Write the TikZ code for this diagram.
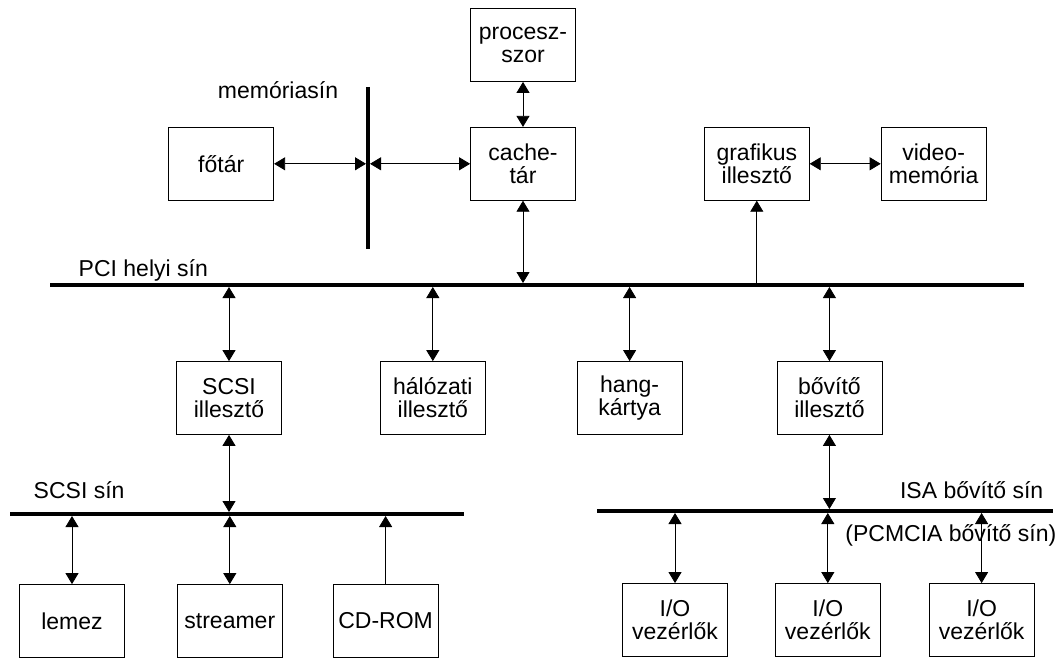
\documentclass[tikz,border=0pt]{standalone}
\usepackage{fontspec}
\setmainfont{Liberation Sans}
\usetikzlibrary{arrows.meta, positioning}
\tikzset{> = { Triangle[length = 11pt, width = 13pt] }}

\begin{document}
\begin{tikzpicture}[x = 1pt, y = -1pt, <->, line width = 0.8pt, font = \fontsize{23}{23}\selectfont, unit/.style = { draw, minimum width = 105pt, minimum height = 73pt, align = center, inner sep = 0pt }, bus/.style = { -, line width = 4pt }, tobus/.style = { shorten > = 2pt }]
				\useasboundingbox (0, 0) rectangle (1064, 660);

				\node [unit] (proc) at (523, 45) {procesz-\\szor};
				\node [unit, below = 45pt of proc] (cache) {cache-\\tár};
				\node [unit, left = 196pt of cache] (fotar) {főtár};
				\node [unit, right = 128pt of cache] (graf) {grafikus\\illesztő};
				\node [unit, right = 71pt of graf] (video) {video-\\memória};

				\node [unit] (scsi) at (229, 398) {SCSI\\illesztő};
				\node [unit, right = 98pt of scsi] (net) {hálózati\\illesztő};
				\node [unit, right = 91pt of net] (sound) {hang-\\kártya};
				\node [unit, right = 94pt of sound] (ext) {bővítő\\illesztő};

				\node [unit] (disk) at (72, 621) {lemez};
				\node [unit, right = 52pt of disk] (tape) {streamer};
				\node [unit, right = 50pt of tape] (cdrom) {CD-ROM};
				\node [unit] (io1) at (675, 620) {I/O\\vezérlők};
				\node [unit, right = 47pt of io1] (io2) {I/O\\vezérlők};
				\node [unit, right = 48pt of io2] (io3) {I/O\\vezérlők};

				\coordinate (memT) at (368, 87);
				\coordinate (memB) at (368, 249);
				\coordinate (pciL) at (50, 285);
				\coordinate (pciR) at (1024, 285);
				\coordinate (scsiL) at (10, 514);
				\coordinate (scsiR) at (464, 514);
				\coordinate (isaL) at (597, 511);
				\coordinate (isaR) at (1053, 511);

				\node [anchor = base] (memname) at (278, 99) {memóriasín};
				\node [anchor = base west] (pciname) at (75, 276) {PCI helyi sín};
				\node [anchor = base west] (scsiname) at (30, 498) {SCSI sín};
				\node [anchor = base east] (isaname) at (1047, 498) {ISA bővítő sín};
				\node [anchor = base east] (pcmname) at (1060, 541) {(PCMCIA bővítő sín)};

				\draw [bus] (memT) -- (memB);
				\draw [bus] (pciL) -- (pciR);
				\draw [bus] (scsiL) -- (scsiR);
				\draw [bus] (isaL) -- (isaR);

				\draw (proc) -- (cache);
				\draw [tobus] (fotar) -- (fotar -| memT);
				\draw [tobus] (cache) -- (cache -| memT);
				\draw [tobus] (cache) -- (cache |- pciL);
				\draw [->] (graf |- pciL) -- (graf);
				\draw (graf) -- (video);

				\draw [tobus] (scsi) -- (scsi |- pciL);
				\draw [tobus] (net) -- (net |- pciL);
				\draw [tobus] (sound) -- (sound |- pciL);
				\draw [tobus] (ext) -- (ext |- pciL);

				\draw [tobus] (scsi) -- (scsi |- scsiL);
				\draw [tobus] (ext) -- (ext |- isaL);

				\draw [tobus] (disk) -- (disk |- scsiL);
				\draw [tobus] (tape) -- (tape |- scsiL);
				\draw [->, tobus] (cdrom) -- (cdrom |- scsiL);

				\draw [tobus] (io1) -- (io1 |- isaL);
				\draw [tobus] (io2) -- (io2 |- isaL);
				\draw [tobus] (io3) -- (io3 |- isaL);
			\end{tikzpicture}
\end{document}
